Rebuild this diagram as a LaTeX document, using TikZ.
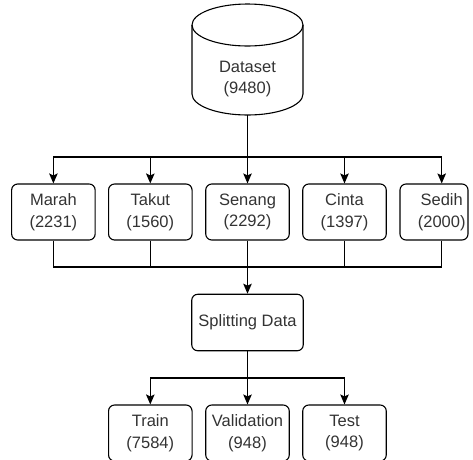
\documentclass[tikz,border=0pt]{standalone}
\usepackage{fontspec}
\setmainfont{Liberation Sans}
\usetikzlibrary{arrows.meta}
\tikzset{
  line/.style={line width=1.3pt, draw=black},
  arr/.style={line, -{Stealth[length=10pt,width=8.5pt,inset=2pt]}},
  box/.style={draw=black, line width=1.1pt, rounded corners=6pt, minimum width=83.5pt,
    minimum height=56pt, inner sep=0pt, align=center, text=black!80,
    font=\fontsize{16.5pt}{21.5pt}\selectfont},
  txt/.style={inner sep=0pt, align=center, text=black!80,
    font=\fontsize{16.5pt}{21.5pt}\selectfont},
}
\begin{document}
\begin{tikzpicture}[x=1pt,y=-1pt]
\useasboundingbox (0,0) rectangle (473,459);
\clip (0,0) rectangle (473,459);
% cylinder
\draw[line width=1.1pt] (247.5,25) ellipse [x radius=55.5pt, y radius=21pt];
\draw[line width=1.1pt] (192,25) -- (192,94) arc[start angle=180, end angle=360, x radius=55.5pt, y radius=21pt] -- (303,25);
\node[txt, minimum width=111pt, minimum height=72pt] (dataset) at (247.5,79) {Dataset\\(9480)};
% row 1
\node[box] (marah) at (53.4,212) {Marah\\(2231)};
\node[box] (takut) at (150.3,212) {Takut\\(1560)};
\node[box] (senang) at (247.5,212) {Senang\\(2292)};
\node[box] (cinta) at (344.5,212) {Cinta\\(1397)};
\node[box, minimum width=68pt] (sedihbox) at (434,212) {};
\node[txt] (sedih) at (441.7,212) {Sedih\\(2000)};
% split
\node[box, minimum width=111.5pt, minimum height=56.5pt] (split) at (247.5,322.5) {Splitting Data};
% row 3
\node[box] (train) at (150.3,433) {Train\\(7584)};
\node[box] (valid) at (247.5,433) {Validation\\(948)};
\node[box] (test) at (344.5,433) {Test\\(948)};
% junctions
\coordinate (j1) at (247.5,157);
\coordinate (j2) at (247.5,267);
\coordinate (j3) at (247.5,378);
% connectors top
\draw[arr] (dataset.south) -- (senang.north);
\draw[arr] (j1) -| (marah.north);
\draw[arr] (j1) -| (takut.north);
\draw[arr] (j1) -| (cinta.north);
\draw[arr] (j1) -| (sedih.north |- sedihbox.north);
% connectors middle
\draw[line] (marah.south) |- (j2);
\draw[line] (takut.south) |- (j2);
\draw[line] (cinta.south) |- (j2);
\draw[line] (sedih.south |- sedihbox.south) |- (j2);
\draw[arr] (senang.south) -- (split.north);
% connectors bottom
\draw[arr] (split.south) -- (valid.north);
\draw[arr] (j3) -| (train.north);
\draw[arr] (j3) -| (test.north);
\end{tikzpicture}
\end{document}
